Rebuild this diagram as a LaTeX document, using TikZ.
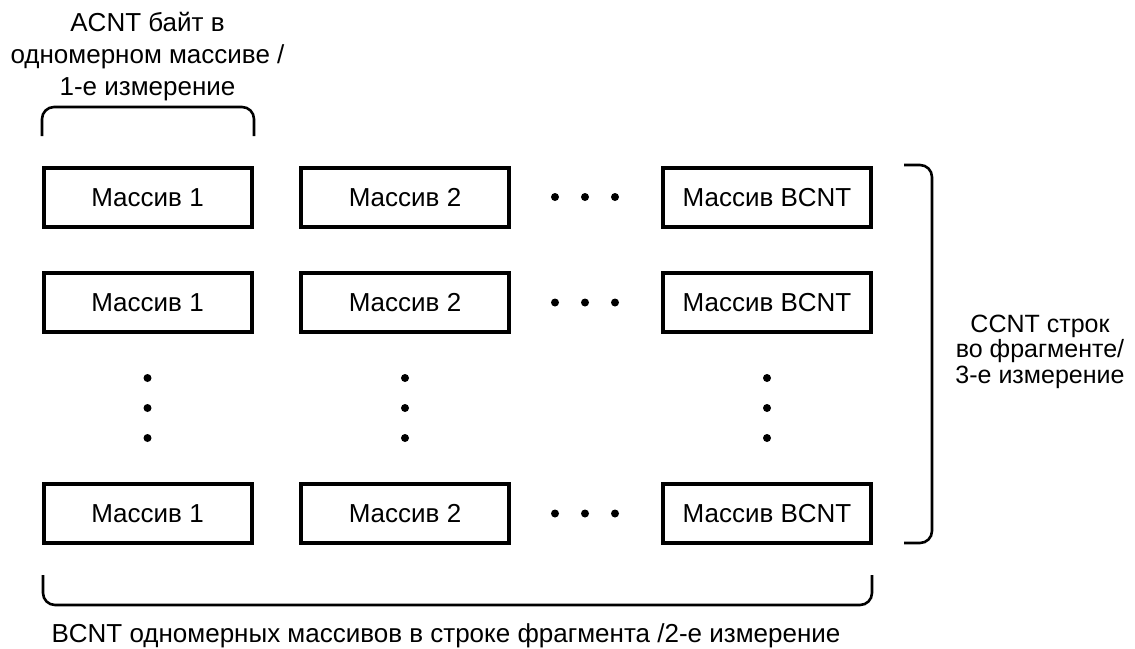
\documentclass[tikz,border=0pt]{standalone}
\usepackage{fontspec}
\setmainfont{Liberation Sans}
\begin{document}
\begin{tikzpicture}[x=1pt,y=-1pt,
  arr/.style={draw,line width=4pt,minimum width=208pt,minimum height=59pt,inner sep=0pt,text height=18.6pt,text depth=0pt,font=\fontsize{26}{30}\selectfont},
  brace/.style={line width=2.6pt,rounded corners=12pt},
  lbl/.style={align=center,inner sep=0pt,font=\fontsize{26}{32}\selectfont},
  dot/.style={circle,fill=black,inner sep=0pt,minimum size=8pt}]
\useasboundingbox (0,0) rectangle (1135,648);
% boxes
\foreach \r/\y in {1/197,2/302.5,3/513.5}{
  \node[arr] (b\r1) at (147.5,\y) {Массив 1};
  \node[arr] (b\r2) at (405,\y) {Массив 2};
  \node[arr] (b\r3) at (767,\y) {Массив BCNT};
  \node[dot] (h\r a) at (555,\y) {};
  \node[dot] (h\r b) at (585,\y) {};
  \node[dot] (h\r c) at (615,\y) {};
}
\foreach \c/\x in {1/147.5,2/405,3/767}{
  \node[dot] (v\c a) at (\x,378) {};
  \node[dot] (v\c b) at (\x,408) {};
  \node[dot] (v\c c) at (\x,438) {};
}
% top brace
\coordinate (t1) at (42,136);
\coordinate (t2) at (42,107);
\coordinate (t3) at (254,107);
\coordinate (t4) at (254,136);
\draw[brace] (t1) -- (t2) -- (t3) -- (t4);
% right brace
\coordinate (r1) at (904,165);
\coordinate (r2) at (932,165);
\coordinate (r3) at (932,543);
\coordinate (r4) at (904,543);
\draw[brace] (r1) -- (r2) -- (r3) -- (r4);
% bottom brace
\coordinate (d1) at (43,575);
\coordinate (d2) at (43,605);
\coordinate (d3) at (872,605);
\coordinate (d4) at (872,575);
\draw[brace] (d1) -- (d2) -- (d3) -- (d4);
% labels
\node[lbl,anchor=base] (ltop) at (147.5,95) {ACNT байт в\\одномерном массиве /\\1-е измерение};
\node[lbl,anchor=base,font=\fontsize{25}{25.5}\selectfont] (lright) at (1040,383) {CCNT строк\\во фрагменте/\\3-е измерение};
\node[lbl,anchor=base] (lbot) at (446,642) {BCNT одномерных массивов в строке фрагмента /2-е измерение};
\end{tikzpicture}
\end{document}
